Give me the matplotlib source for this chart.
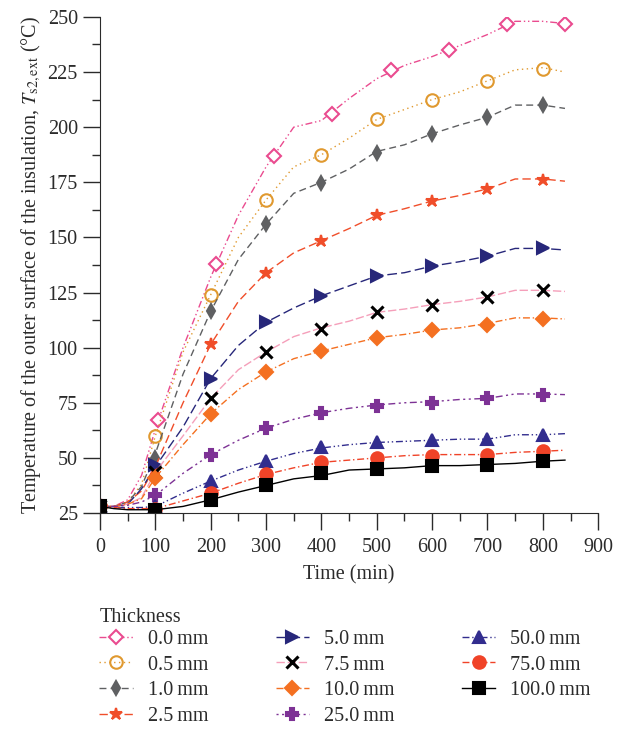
import matplotlib
matplotlib.use("Agg")
import matplotlib.pyplot as plt
from matplotlib.ticker import MultipleLocator

plt.rcParams['font.family'] = ['Liberation Serif', 'DejaVu Serif']
plt.rcParams['mathtext.fontset'] = 'stix'

# Data
labels = ["0.0\u2009mm", "0.5\u2009mm", "1.0\u2009mm", "2.5\u2009mm", "5.0\u2009mm",
          "7.5\u2009mm", "10.0\u2009mm", "25.0\u2009mm", "50.0\u2009mm",
          "75.0\u2009mm", "100.0\u2009mm"]

# line samples (min)
t_line = [0, 25, 50, 75, 100, 150, 200, 250, 300, 350, 400, 450, 500,
          550, 600, 650, 700, 750, 800, 840]

line_00 = [28, 28, 31, 42, 63, 100, 132, 160, 182, 200, 203, 213, 222, 228, 232, 237, 242, 248, 248, 247]
line_05 = [28, 28, 30, 38, 60, 98, 124, 150, 167, 182, 187.5, 195, 203.5, 208, 212.5, 216, 221, 226, 227, 225]
line_10 = [28, 28, 30, 37, 52, 88, 116.5, 140, 156, 170, 175, 181, 189, 192, 197, 201, 204.5, 210, 210, 208.5]
line_25 = [28, 28, 30, 35, 46, 75, 101.5, 121, 134, 143, 148.5, 154, 160, 163, 166.5, 169, 172, 176.5, 176.5, 175.5]
line_50 = [28, 28, 29, 36, 46, 64, 86, 101, 111.5, 118, 123.5, 128, 132.5, 134, 137, 139, 141.5, 145, 145, 144.3]
line_75 = [28, 28, 29, 32, 43.5, 60, 77, 90, 98, 105, 109, 112, 116, 117.5, 119.5, 121, 123, 126, 126, 125.5]
line_100 = [28, 28, 29, 31.5, 41, 56, 70, 81, 89, 95, 98.5, 101.5, 104.5, 106, 108, 109, 111, 113.5, 113.5, 113]
line_250 = [28, 28, 28.5, 30, 33, 43, 51.5, 58, 63.5, 67.5, 70.5, 72.5, 74, 75, 75.5, 76.5, 77, 79, 79, 78.7]
line_500 = [28, 27.5, 27.5, 27.5, 28, 34, 39.5, 44.5, 48.5, 52, 54.5, 56, 57, 57.5, 58, 58.5, 58.5, 60.5, 60.5, 61]
line_750 = [28, 27.5, 27, 27, 27, 30.5, 34, 38.5, 42.5, 45.5, 48, 49, 50, 51, 51.5, 51.5, 51.5, 52.5, 53, 53.5]
line_1000 = [28, 27, 26.5, 26.5, 26.5, 28, 31, 34.5, 37.5, 40.5, 42, 44.5, 45, 45.5, 46.5, 46.5, 47, 47.5, 48.5, 49]

# marker samples (min)
t_mark_00 = [0, 105, 210, 315, 420, 525, 630, 735, 840]
t_mark = [0, 100, 200, 300, 400, 500, 600, 700, 800]

mark_00 = [28, 67, 138, 187, 206, 226, 235, 247, 247]
mark_05 = [28, 60, 124, 167, 187.5, 203.5, 212.5, 221, 226.5]
mark_10 = [28, 50, 116.5, 156, 174.5, 188.5, 197, 204.5, 210]
mark_25 = [28, 45, 101.5, 134, 148.5, 160, 166.5, 172, 176]
mark_50 = [28, 47, 86, 111.5, 123.5, 132.5, 137, 141.5, 145]
mark_75 = [28, 43.5, 77, 98, 108.5, 116, 119.5, 123, 126]
mark_100 = [28, 41, 70, 89, 98.5, 104.5, 108, 110.5, 113]
mark_250 = [28, 33, 51.5, 63.5, 70.5, 73.5, 75, 77, 78.5]
mark_500 = [28, 28, 39.5, 48.5, 55, 57, 58, 58.5, 60.5]
mark_750 = [28, 27, 34, 42.5, 48, 50, 51, 51.5, 53]
mark_1000 = [28, 26.5, 31, 37.5, 43, 45, 46.5, 47, 48.5]

lines = [line_00, line_05, line_10, line_25, line_50, line_75,
         line_100, line_250, line_500, line_750, line_1000]
marks = [mark_00, mark_05, mark_10, mark_25, mark_50, mark_75,
         mark_100, mark_250, mark_500, mark_750, mark_1000]
mark_times = [t_mark_00] + [t_mark] * 10

# styles: (line colour, marker, marker face, marker edge, marker size, dashes)
styles = [
    ("#ea4b8f", "D", "white", "#ea4b8f", 7, (5, 2, 1, 2, 1, 2)),
    ("#e0992f", "o", "none", "#e0992f", 9, (1, 2.5)),
    ("#5f6062", "d", "#5f6062", "#5f6062", 7, (5, 3)),
    ("#f04e2a", "*", "#f04e2a", "#f04e2a", 9, (6, 3)),
    ("#27277a", ">", "#27277a", "#27277a", 9, (7, 3)),
    ("#f59fba", "x", "black", "black", 8, (6, 2)),
    ("#f47021", "D", "#f47021", "#f47021", 7, (5, 2, 1, 2)),
    ("#7d3295", "P", "#7d3295", "#7d3295", 9, (1.5, 2.5, 1.5, 2.5, 5, 2.5)),
    ("#322d8e", "^", "#322d8e", "#322d8e", 8, (5, 2, 1, 2, 1, 2)),
    ("#f04328", "o", "#f04328", "#f04328", 9, (5, 2, 1, 2)),
    ("black", "s", "black", "black", 8, None),
]

fig = plt.figure(figsize=(6.29, 7.35), dpi=100)
ax = fig.add_axes([0.159, 0.302, 0.792, 0.675])

handles = []
for lbl, y, tm, ym, st in zip(labels, lines, mark_times, marks, styles):
    col, mk, mfc, mec, ms, dash = st
    ln, = ax.plot(t_line, y, color=col, lw=1.0)
    if dash is not None:
        ln.set_dashes(dash)
    mew = 2.2 if mk == "x" else 1.5
    ax.plot(tm, ym, ls="none", marker=mk, ms=ms, mfc=mfc, mec=mec, mew=mew)
    h, = ax.plot([], [], color=col, lw=1.0, marker=mk, ms=ms, mfc=mfc,
                 mec=mec, mew=mew)
    if dash is not None:
        h.set_dashes(dash)
    handles.append(h)

txt = "#2b2b2b"
fs = 14.5

ax.set_xlim(0, 900)
ax.set_ylim(25, 250)
ax.xaxis.set_major_locator(MultipleLocator(100))
ax.xaxis.set_minor_locator(MultipleLocator(50))
ax.yaxis.set_major_locator(MultipleLocator(25))
ax.yaxis.set_minor_locator(MultipleLocator(12.5))
ax.tick_params(which="major", length=12, width=1, direction="out",
               labelsize=fs, colors=txt)
ax.tick_params(which="minor", length=6, width=1, direction="out",
               colors=txt)
ax.tick_params(axis="x", which="major", pad=6)
ax.tick_params(axis="y", which="major", pad=4)
ax.spines["top"].set_visible(False)
ax.spines["right"].set_visible(False)
for s in ("left", "bottom"):
    ax.spines[s].set_color(txt)

ax.set_xlabel("Time (min)", fontsize=fs, color=txt, labelpad=6)
ax.set_ylabel(r"Temperature of the outer surface of the insulation, "
              r"$T_{\mathrm{s2,ext}}$ (°C)", fontsize=fs, color=txt,
              labelpad=3)

fig.text(100 / 629, 1 - 617 / 735, "Thickness", fontsize=fs, color=txt,
         ha="left", va="center")
leg = fig.legend(handles, labels, ncol=3, loc="upper left",
                 bbox_to_anchor=(0.142, 0.157), frameon=False, borderpad=0,
                 fontsize=fs, handlelength=1.65, columnspacing=3.35,
                 labelspacing=0.33, handletextpad=0.75)
for t in leg.get_texts():
    t.set_color(txt)

plt.savefig("out.png", dpi=100)
plt.close()
